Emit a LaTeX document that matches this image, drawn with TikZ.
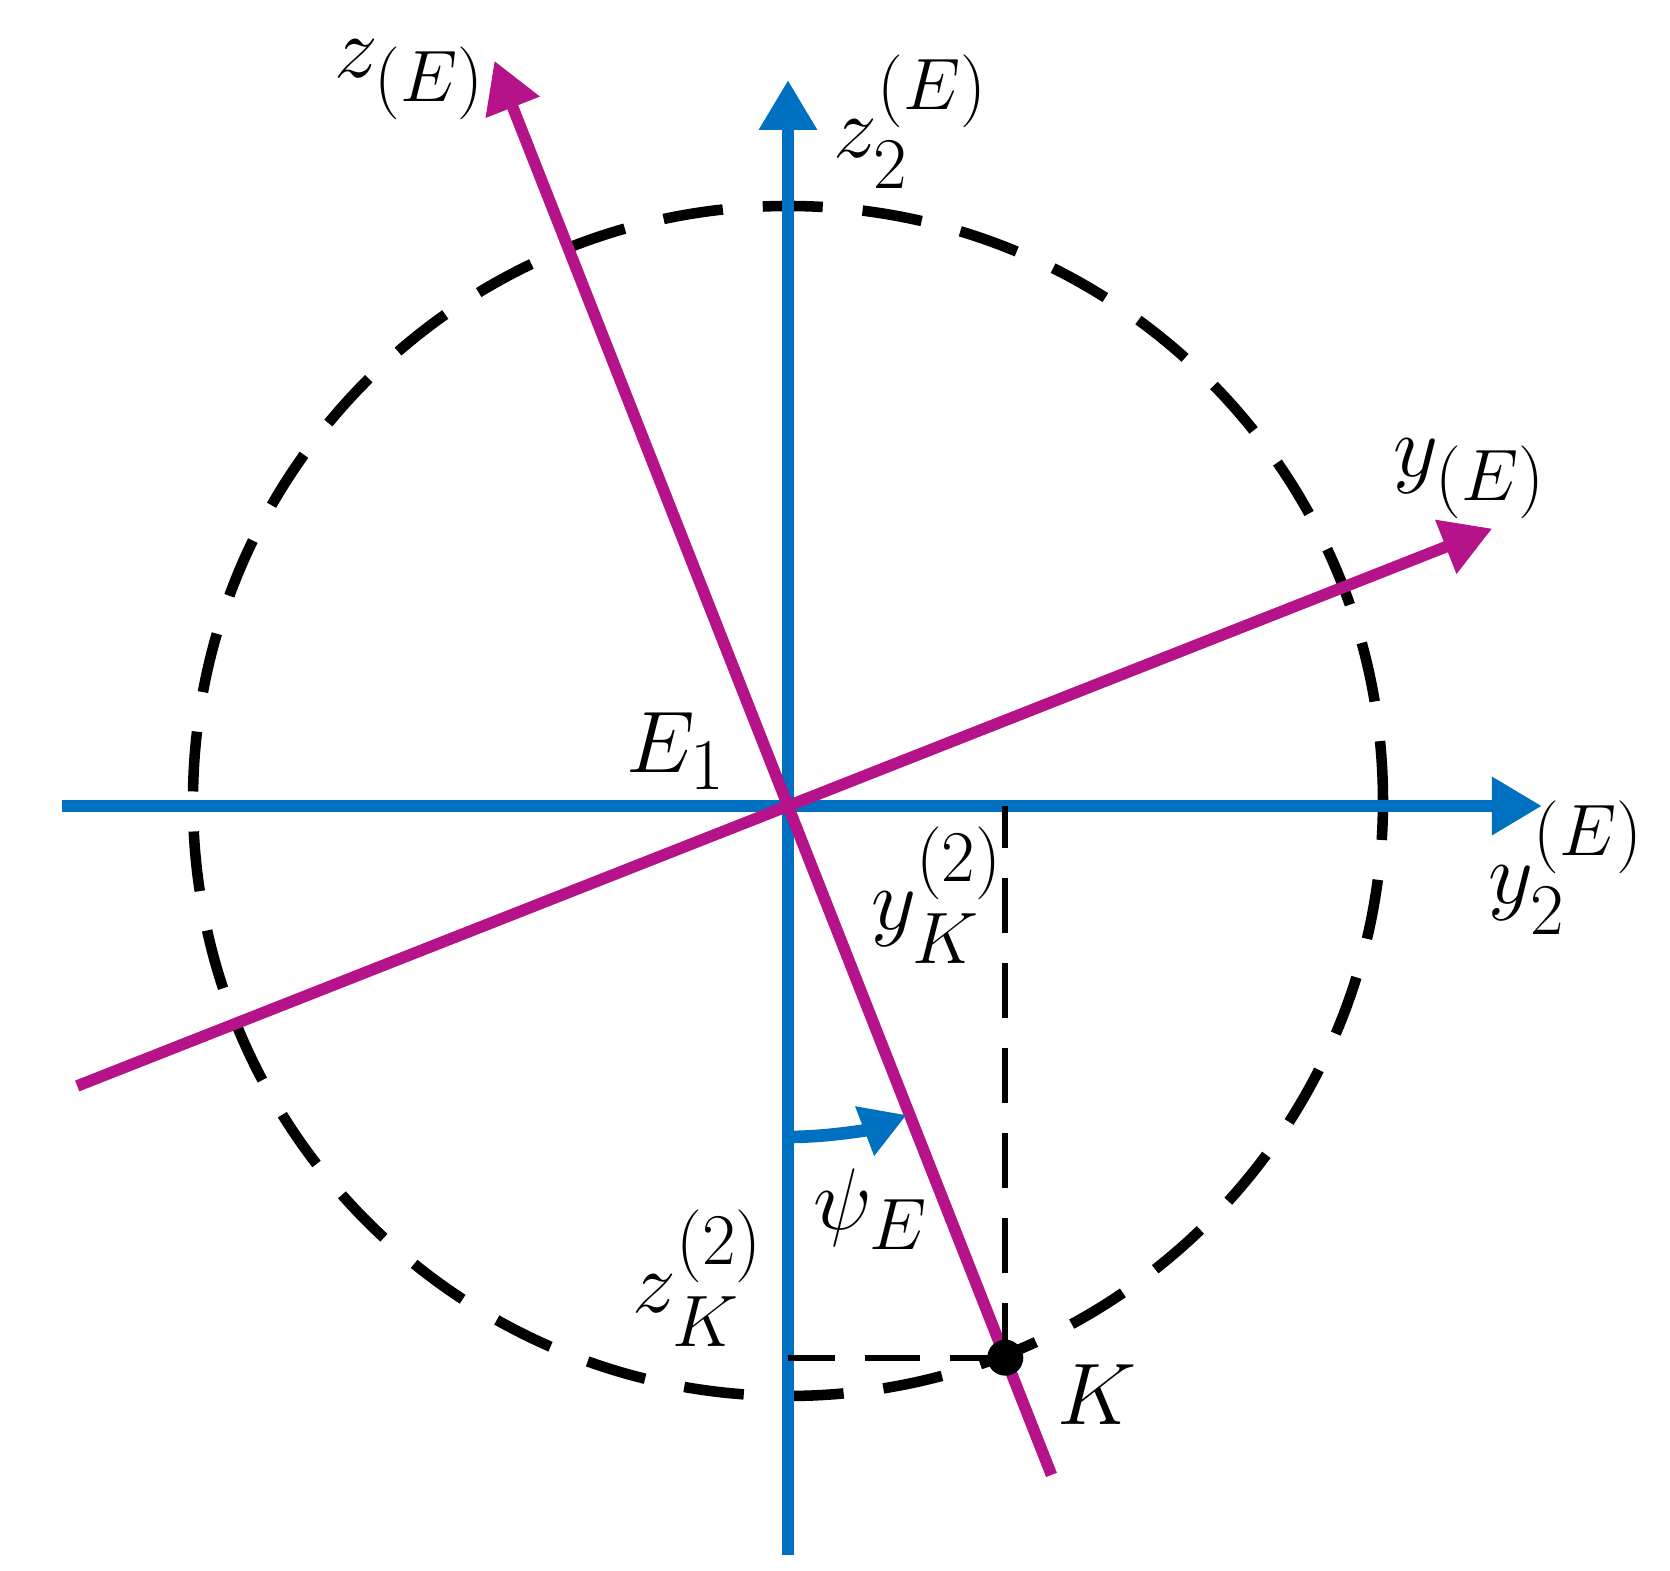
\documentclass[tikz,border=0pt]{standalone}
\usepackage{tikz}
\usetikzlibrary{calc,positioning,arrows.meta}
\usepackage{xcolor}
\usepackage{amsmath,amssymb}
\definecolor{axisblue}{RGB}{0,112,192}
\definecolor{framemag}{RGB}{182,18,138}

\begin{document}
\begin{tikzpicture}[
    axis/.style={line width=3.6pt, axisblue, -{Triangle[length=0.5cm,width=0.55cm]}},
    rot/.style={line width=3.3pt, framemag},
    proj/.style={line width=1.8pt, dash pattern=on 0.55cm off 0.3cm},
    lbl/.style={font=\Huge, inner sep=1pt}
]
\useasboundingbox (-7.88,-7.65) rectangle (8.82,8.06);

% Dashed circle
\draw[line width=3pt, dash pattern=on 0.6cm off 0.4cm] (0,0.05) circle (5.95);

% Fixed axes
\coordinate (O) at (0,0);
\coordinate (yleft) at (-7.26,0);
\coordinate (yright) at (7.54,0);
\coordinate (zbot) at (0,-7.49);
\coordinate (ztop) at (0,7.26);
\draw[axis] (yleft) -- (yright);
\draw[axis] (zbot) -- (ztop);

% Rotated axes
\coordinate (zrbot) at (-68.5:7.19);
\coordinate (zrtop) at (111.5:8.01);
\coordinate (yrleft) at (201.5:7.64);
\coordinate (yrright) at (21.5:7.57);
\draw[rot, -{Triangle[length=0.5cm,width=0.55cm]}] (zrbot) -- (zrtop);
\draw[rot, -{Triangle[length=0.5cm,width=0.55cm]}] (yrleft) -- (yrright);

% Angle psi
\coordinate (psistart) at (-90:3.31);
\draw[line width=3.6pt, axisblue, -{Triangle[length=0.45cm,width=0.5cm]}]
    (psistart) arc[start angle=-90, end angle=-69, radius=3.31];

% Point K and its projections
\coordinate (Kc) at (-68.5:5.93);
\draw[proj] (Kc) -- (Kc |- O);
\draw[proj] (Kc) -- (Kc -| O);
\node[circle, fill, inner sep=0pt, minimum size=0.36cm] (K) at (Kc) {};

% Labels
\node[lbl] (zE) at (-3.78,7.26) {$z_{(E)}$};
\node[lbl] (z2E) at (1.23,6.84) {$z_2^{(E)}$};
\node[lbl] (yE) at (6.82,3.27) {$y_{(E)}$};
\node[lbl] (y2E) at (7.78,-0.62) {$y_2^{(E)}$};
\node[lbl] (E1) at (-1.12,0.55) {$E_1$};
\node[lbl] (yK) at (1.49,-0.89) {$y_K^{(2)}$};
\node[lbl] (psiE) at (0.83,-4.03) {$\psi_E$};
\node[lbl] (zK) at (-0.90,-4.72) {$z_K^{(2)}$};
\node[lbl] (Klbl) at (3.09,-5.89) {$K$};
\end{tikzpicture}
\end{document}
